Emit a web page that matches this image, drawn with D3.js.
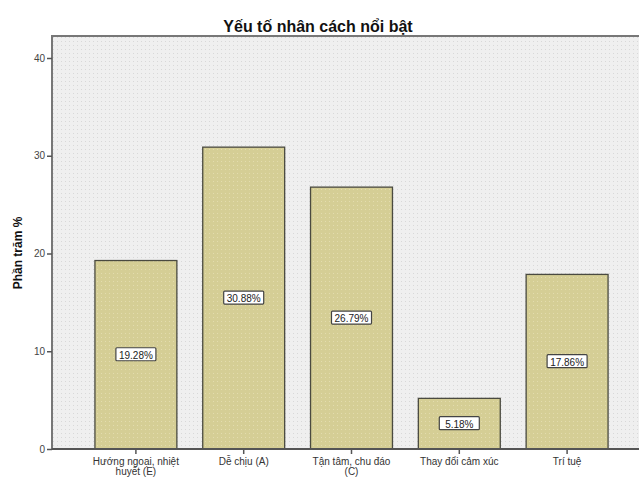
<!DOCTYPE html>
<html><head><meta charset="utf-8">
<script src="https://cdn.jsdelivr.net/npm/d3@7"></script>
<style>body{margin:0;background:#fff}svg{display:block}</style>
</head><body>
<svg id="c" width="639" height="480"></svg>
<script>
const categories = [["Hướng ngoại, nhiệt","huyết (E)"],["Dễ chịu (A)"],["Tận tâm, chu đáo","(C)"],["Thay đổi cảm xúc"],["Trí tuệ"]];
const values = [19.28, 30.88, 26.79, 5.18, 17.86];
const labels = ["19.28%","30.88%","26.79%","5.18%","17.86%"];
const yTicks = [0,10,20,30,40];
const title = "Yếu tố nhân cách nổi bật";
const yTitle = "Phần trăm %";

const svg = d3.select("#c");
const defs = svg.append("defs");
const bgP = defs.append("pattern").attr("id","bgp").attr("patternUnits","userSpaceOnUse").attr("width",4).attr("height",4);
bgP.append("rect").attr("width",4).attr("height",4).attr("fill","#efefef");
bgP.append("rect").attr("x",1).attr("y",1).attr("width",1).attr("height",1).attr("fill","#d8d8d8");
const barP = defs.append("pattern").attr("id","barp").attr("patternUnits","userSpaceOnUse").attr("width",4).attr("height",4);
barP.append("rect").attr("width",4).attr("height",4).attr("fill","#d5ce95");
barP.append("rect").attr("x",1).attr("y",1).attr("width",1).attr("height",1).attr("fill","#e3dcae");

const plotL = 52, plotT = 36, plotR = 660;
const y = d3.scaleLinear().domain([0,40]).range([449,58]);
const x = d3.scaleBand().domain(d3.range(values.length)).range([82,621]).paddingInner(0.24).paddingOuter(0.12);

svg.append("rect").attr("x",plotL).attr("y",plotT).attr("width",plotR-plotL).attr("height",449-plotT)
  .attr("fill","url(#bgp)").attr("stroke","#777").attr("stroke-width",2);

svg.append("g").selectAll("rect").data(values).join("rect")
  .attr("x",(d,i)=>x(i)).attr("y",d=>y(d)).attr("width",x.bandwidth()).attr("height",d=>y(0)-y(d))
  .attr("fill","url(#barp)").attr("stroke","#4a4a40").attr("stroke-width",1.3);

// value labels
const lg = svg.append("g").selectAll("g").data(values).join("g")
  .attr("transform",(d,i)=>`translate(${x(i)+x.bandwidth()/2},${y(d/2)})`);
lg.append("rect").attr("x",-20).attr("y",-7).attr("width",40).attr("height",13)
  .attr("fill","#fff").attr("stroke","#444").attr("stroke-width",1.2).attr("rx",1);
lg.append("text").text((d,i)=>labels[i]).attr("text-anchor","middle").attr("dy",4)
  .attr("font-family","Arial, Liberation Sans, sans-serif").attr("font-size",10).attr("fill","#222");

// y axis
const ya = svg.append("g").attr("transform",`translate(${plotL},0)`)
  .call(d3.axisLeft(y).tickValues(yTicks).tickSize(5).tickPadding(2));
ya.select(".domain").remove();
ya.selectAll("line").attr("stroke","#555").attr("stroke-width",1.5);
ya.selectAll("text").attr("font-family","Arial, Liberation Sans, sans-serif").attr("font-size",10).attr("fill","#444");

// x axis
svg.append("line").attr("x1",plotL).attr("x2",plotR).attr("y1",449).attr("y2",449).attr("stroke","#555").attr("stroke-width",2);
const xa = svg.append("g").selectAll("g").data(categories).join("g")
  .attr("transform",(d,i)=>`translate(${x(i)+x.bandwidth()/2},449)`);
xa.append("line").attr("y1",0).attr("y2",5).attr("stroke","#555").attr("stroke-width",1.5);
xa.append("text").attr("text-anchor","middle").attr("font-family","Arial, Liberation Sans, sans-serif").attr("font-size",10).attr("fill","#333")
  .selectAll("tspan").data(d=>d).join("tspan").attr("x",0).attr("y",(d,j)=>16+j*10).text(d=>d);

// titles
svg.append("text").text(title).attr("x",318).attr("y",32).attr("text-anchor","middle")
  .attr("font-family","Arial, Liberation Sans, sans-serif").attr("font-weight","bold").attr("font-size",16).attr("fill","#111");
svg.append("text").text(yTitle).attr("transform","translate(22,253) rotate(-90)").attr("text-anchor","middle")
  .attr("font-family","Arial, Liberation Sans, sans-serif").attr("font-weight","bold").attr("font-size",12).attr("fill","#111");
</script>
</body></html>
